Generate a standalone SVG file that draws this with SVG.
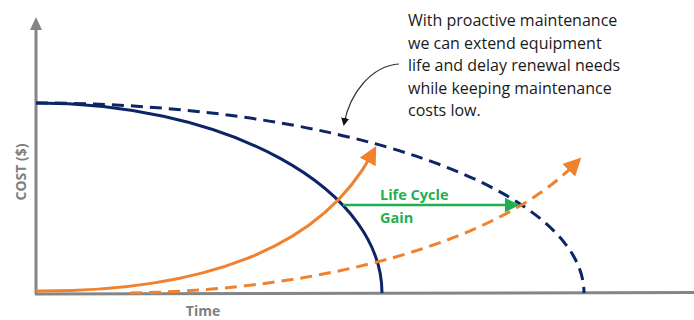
<svg xmlns="http://www.w3.org/2000/svg" width="694" height="320" viewBox="0 0 694 320">
<defs>
<style>
.axis{stroke:#858585;stroke-width:3;fill:none}
.navy{stroke:#0b2566;stroke-width:3;fill:none}
.orange{stroke:#f0822f;stroke-width:3;fill:none}
.dash{stroke-dasharray:12 7}
.lbl{font-family:"Open Sans","Liberation Sans",sans-serif;font-weight:bold;fill:#808080;font-size:14px}
.note{font-family:"Open Sans","Liberation Sans",sans-serif;fill:#1a1a1a;font-size:16px}
.green{font-family:"Open Sans","Liberation Sans",sans-serif;font-weight:bold;fill:#1fb050;font-size:14.5px}
</style>
<marker id="ao" markerWidth="6" markerHeight="6" refX="3" refY="3" orient="auto" markerUnits="strokeWidth"><path d="M0,0 L6,3 L0,6 Z" fill="#f0822f"/></marker>
<marker id="ag" markerWidth="6" markerHeight="6" refX="3" refY="3" orient="auto" markerUnits="strokeWidth"><path d="M0,0 L6,3 L0,6 Z" fill="#1fb050"/></marker>
<marker id="ab" markerWidth="8" markerHeight="8" refX="6" refY="4" orient="auto" markerUnits="userSpaceOnUse"><path d="M0,0 L8,4 L0,8 Z" fill="#111"/></marker>
</defs>
<g id="axes">
<path class="axis" d="M36,294 L36,28"/>
<path d="M30,30 L36,17 L42,30 Z" fill="#858585"/>
<path class="axis" d="M35,294 L694,292.5"/>
<text class="lbl" transform="translate(26,172) rotate(-90)" text-anchor="middle">COST ($)</text>
<text class="lbl" x="203" y="316" text-anchor="middle">Time</text>
</g>
<g id="connectors">
<path class="navy" d="M36,103 A346,190 0 0 1 382,293"/>
<path class="navy dash" d="M36,103 A548,190 0 0 1 584,293"/>
<path class="orange" d="M36,291 C200,292 320,250 372,154" marker-end="url(#ao)"/>
<path class="orange dash" d="M130,293 C330,290 500,240 575,164" marker-end="url(#ao)"/>
<path d="M343,205 L512,205" stroke="#1fb050" stroke-width="2.5" marker-end="url(#ag)"/>
<path d="M399,64 C372,66 350,92 344,124" stroke="#333" stroke-width="1.2" fill="none" marker-end="url(#ab)"/>
</g>
<g id="gain-label">
<text class="green" x="380" y="200">Life Cycle</text>
<text class="green" x="380" y="223">Gain</text>
</g>
<g id="note">
<text class="note" x="408" y="26">With proactive maintenance</text>
<text class="note" x="408" y="48.5">we can extend equipment</text>
<text class="note" x="408" y="71">life and delay renewal needs</text>
<text class="note" x="408" y="93.5">while keeping maintenance</text>
<text class="note" x="408" y="116">costs low.</text>
</g>
</svg>
